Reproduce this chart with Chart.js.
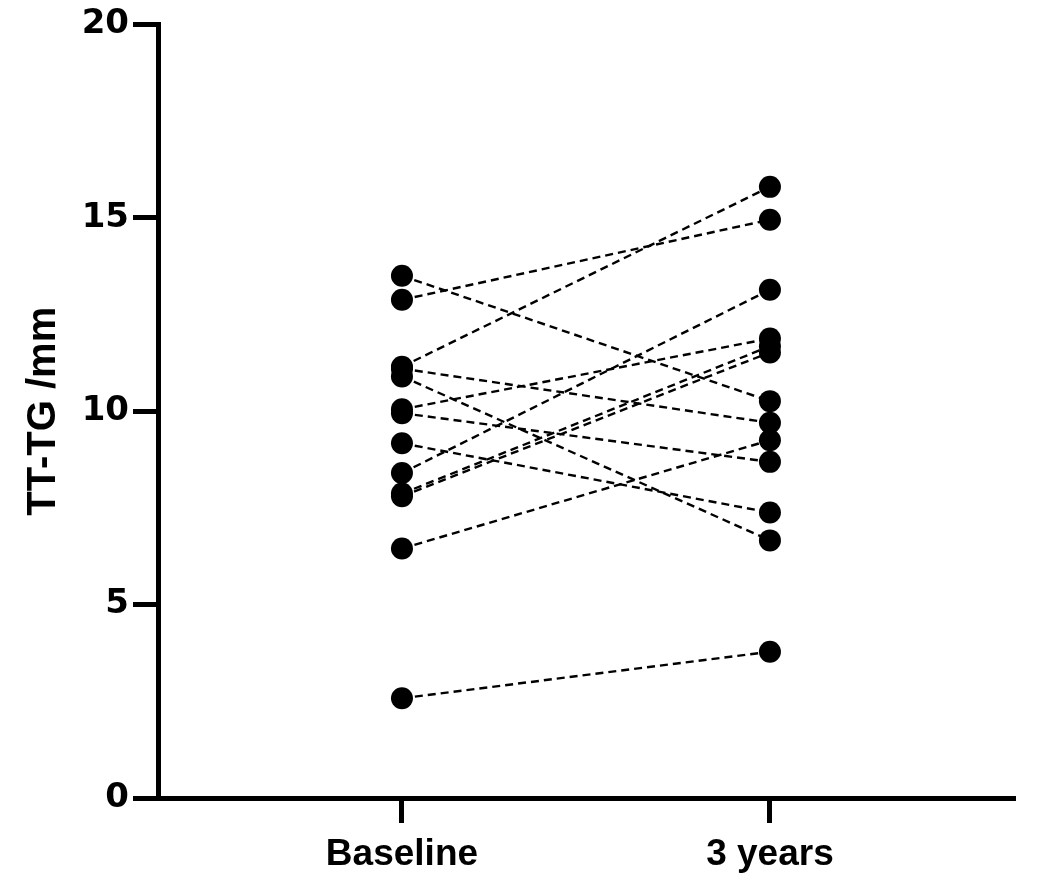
<!DOCTYPE html>
<html>
<head>
<meta charset="utf-8">
<script src="https://cdn.jsdelivr.net/npm/chart.js@4"></script>
<style>
  html, body { margin: 0; padding: 0; background: #fff; }
  #wrap { width: 1063px; height: 878px; }
</style>
</head>
<body>
<div id="wrap"><canvas id="pairedChart"></canvas></div>
<script>
// --- Data ---
const timepoints = ['Baseline', '3 years'];
const baselineValues = [13.5, 12.88, 11.15, 11.1, 10.9, 10.05, 9.95, 9.17, 8.4, 7.87, 7.8, 6.45, 2.58];
const threeYearValues = [10.26, 14.95, 15.8, 9.7, 6.66, 11.88, 8.69, 7.38, 13.14, 11.68, 11.52, 9.25, 3.78];
const yTicks = [0, 5, 10, 15, 20];

// One dataset per subject: a dashed line from baseline to 3 years
const datasets = baselineValues.map((b, i) => ({
    data: [{ x: 0, y: b }, { x: 1, y: threeYearValues[i] }],
    borderColor: '#000',
    backgroundColor: '#000',
    borderWidth: 2.4,
    borderDash: [8, 5],
    pointRadius: 11,
    pointHoverRadius: 11,
    pointBorderWidth: 0,
    clip: false
}));

const ctx = document.getElementById('pairedChart').getContext('2d');
const pairedChart = new Chart(ctx, {
    type: 'line',
    data: { datasets },
    options: {
        responsive: true,
        maintainAspectRatio: false,
        animation: false,
        layout: { padding: { top: 20, right: 48, left: 0, bottom: 0 } },
        plugins: { legend: { display: false }, tooltip: { enabled: false } },
        scales: {
            x: {
                type: 'linear',
                min: -0.663,
                max: 1.666,
                afterBuildTicks: (scale) => { scale.ticks = [{ value: 0 }, { value: 1 }]; },
                afterFit: (scale) => { scale.height = 80; },
                ticks: {
                    callback: (v) => timepoints[v],
                    color: '#000',
                    padding: 10,
                    maxRotation: 0,
                    font: { family: 'Liberation Sans', size: 37, weight: 'bold' }
                },
                grid: { drawOnChartArea: false, tickLength: 25, tickWidth: 5, tickColor: '#000' },
                border: { width: 5, color: '#000' }
            },
            y: {
                min: 0,
                max: 20,
                afterBuildTicks: (scale) => { scale.ticks = yTicks.map(v => ({ value: v })); },
                afterFit: (scale) => { scale.width = 158; },
                ticks: {
                    color: '#000',
                    padding: 4,
                    font: { family: 'DejaVu Sans', size: 34, weight: 'bold' }
                },
                title: {
                    display: true,
                    text: 'TT-TG /mm',
                    color: '#000',
                    padding: { top: 20, bottom: 0 },
                    font: { family: 'Liberation Sans', size: 40, weight: 'bold' }
                },
                grid: { drawOnChartArea: false, tickLength: 25, tickWidth: 5, tickColor: '#000' },
                border: { width: 5, color: '#000' }
            }
        }
    }
});
</script>
</body>
</html>
